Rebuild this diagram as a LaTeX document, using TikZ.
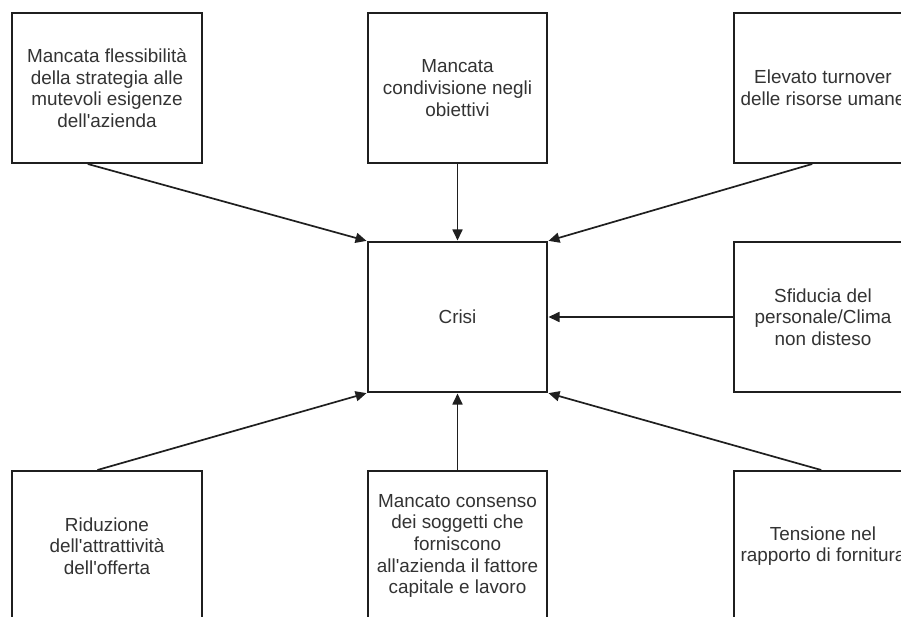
\documentclass[tikz,border=0pt]{standalone}
\usepackage{fontspec}
\setmainfont{Liberation Sans}[Ligatures=TeXOff]
\usetikzlibrary{arrows.meta,calc}
\begin{document}
\begin{tikzpicture}[x=1pt,y=-1pt,
  cause/.style={draw=black!88, line width=2pt, fill=white, rectangle,
    minimum height=150pt, align=center, text=black!80, inner sep=0pt,
    font=\fontsize{18.9}{21.7}\selectfont},
  link/.style={draw=black!88, line width=1.7pt,
    -{Triangle[length=11pt,width=10pt]}, shorten >=0.5pt}]
\clip (0,0) rectangle (901,617);
\fill[white] (0,0) rectangle (901,617);

% central node
\node[cause, minimum width=179pt] (crisi) at (457.5,317) {Crisi};

% causes, top row
\node[cause, minimum width=190pt] (flex) at (107,88)
  {Mancata flessibilità\\della strategia alle\\mutevoli esigenze\\dell'azienda};
\node[cause, minimum width=179pt] (obiet) at (457.5,88)
  {Mancata\\condivisione negli\\obiettivi};
\node[cause, minimum width=178pt] (turn) at (823,88)
  {Elevato turnover\\delle risorse umane};

% cause, middle right
\node[cause, minimum width=178pt] (clima) at (823,317)
  {Sfiducia del\\personale/Clima\\non disteso};

% causes, bottom row
\node[cause, minimum width=190pt] (offer) at (107,546)
  {Riduzione\\dell'attrattività\\dell'offerta};
\node[cause, minimum width=179pt] (cons) at (457.5,546)
  {Mancato consenso\\dei soggetti che\\forniscono\\all'azienda il fattore\\capitale e lavoro};
\node[cause, minimum width=178pt] (forn) at (823,546)
  {Tensione nel\\rapporto di fornitura};

% connectors into the central node
\draw[link] ($(flex.south west)!0.4!(flex.south east)$) -- (crisi.north west);
\draw[link] (obiet.south) -- (crisi.north);
\draw[link] ($(turn.south west)!0.44!(turn.south east)$) -- (crisi.north east);
\draw[link] (clima.west) -- (crisi.east);
\draw[link] ($(offer.north west)!0.45!(offer.north east)$) -- (crisi.south west);
\draw[link] (cons.north) -- (crisi.south);
\draw[link] ($(forn.north west)!0.49!(forn.north east)$) -- (crisi.south east);
\end{tikzpicture}
\end{document}
